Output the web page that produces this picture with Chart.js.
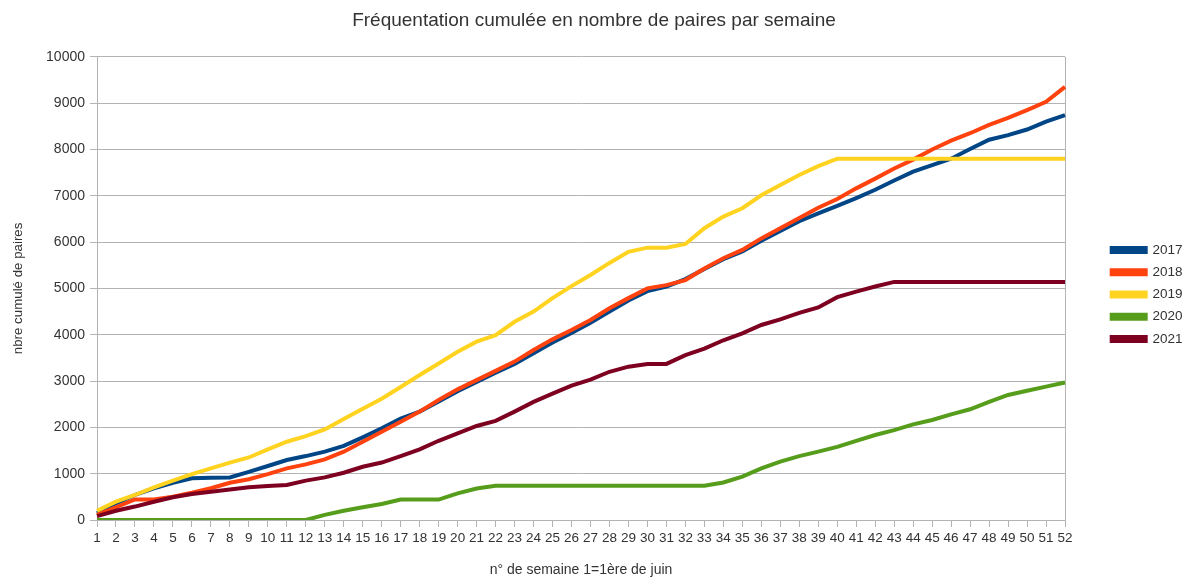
<!DOCTYPE html>
<html lang="fr">
<head>
<meta charset="utf-8">
<title>Fréquentation cumulée</title>
<script src="https://cdn.jsdelivr.net/npm/chart.js@4.4.1/dist/chart.umd.min.js"></script>
<style>
    html, body { margin: 0; padding: 0; background: #fff; }
    #wrap { width: 1188px; height: 579px; }
</style>
</head>
<body>
<div id="wrap"><canvas id="frequentationChart" width="1188" height="579"></canvas></div>
<script>
// n° de semaine (1 = 1ère semaine de juin)
const weeks = ['1', '2', '3', '4', '5', '6', '7', '8', '9', '10', '11', '12', '13', '14', '15', '16', '17', '18',
    '19', '20', '21', '22', '23', '24', '25', '26', '27', '28', '29', '30', '31', '32', '33', '34', '35', '36',
    '37', '38', '39', '40', '41', '42', '43', '44', '45', '46', '47', '48', '49', '50', '51', '52'];

// nombre cumulé de paires
const pairs2017 = [145, 360, 540, 685, 805, 900, 910, 920, 1040, 1165, 1295, 1380, 1475, 1600, 1785, 1980, 2190, 2340,
    2560, 2780, 2980, 3180, 3370, 3600, 3830, 4040, 4260, 4500, 4740, 4940, 5040, 5200, 5420, 5630, 5800,
    6030, 6240, 6450, 6620, 6780, 6950, 7130, 7330, 7520, 7660, 7800, 8010, 8210, 8310, 8430, 8600, 8740];
const pairs2018 = [110, 275, 445, 445, 505, 590, 685, 805, 880, 990, 1115, 1200, 1310, 1475, 1690, 1905, 2120, 2340,
    2590, 2820, 3020, 3220, 3420, 3670, 3900, 4100, 4320, 4570, 4790, 5000, 5070, 5180, 5430, 5650, 5830,
    6080, 6300, 6520, 6740, 6930, 7160, 7370, 7590, 7780, 8000, 8190, 8350, 8530, 8680, 8850, 9030, 9350];
const pairs2019 = [200, 395, 540, 705, 850, 990, 1115, 1240, 1350, 1525, 1690, 1810, 1955, 2180, 2400, 2620, 2870, 3130,
    3380, 3630, 3850, 3990, 4280, 4500, 4790, 5050, 5290, 5550, 5790, 5880, 5880, 5960, 6300, 6550, 6730,
    7010, 7230, 7450, 7640, 7800, 7800, 7800, 7800, 7800, 7800, 7800, 7800, 7800, 7800, 7800, 7800, 7800];
const pairs2020 = [0, 0, 0, 0, 0, 0, 0, 0, 0, 0, 0, 0, 110, 200, 275, 345, 440, 440,
    440, 575, 680, 740, 740, 740, 740, 740, 740, 740, 740, 740, 740, 740, 740, 810, 935,
    1115, 1260, 1380, 1475, 1580, 1710, 1835, 1940, 2065, 2160, 2280, 2390, 2550, 2700, 2790, 2880, 2970];
const pairs2021 = [85, 200, 290, 395, 490, 560, 610, 660, 705, 735, 755, 850, 920, 1020, 1150, 1240, 1380, 1525,
    1710, 1870, 2030, 2140, 2340, 2550, 2730, 2900, 3030, 3200, 3310, 3370, 3370, 3560, 3700, 3880, 4030,
    4210, 4330, 4470, 4590, 4810, 4930, 5040, 5140, 5140, 5140, 5140, 5140, 5140, 5140, 5140, 5140, 5140];

const yTicks = [0, 1000, 2000, 3000, 4000, 5000, 6000, 7000, 8000, 9000, 10000];

const gridColor = '#b3b3b3';
const textColor = '#333333';
const fontFamily = '"Liberation Sans", Arial, sans-serif';

function makeSeries(label, data, color, order) {
    return {
        label: label,
        data: data,
        borderColor: color,
        backgroundColor: color,
        borderWidth: 4,
        pointRadius: 0,
        pointHoverRadius: 0,
        tension: 0,
        fill: false,
        order: order
    };
}

// The legend sits in a fixed strip on the right, items start a bit further in
const legendPlacement = {
    id: 'legendPlacement',
    beforeLayout(chart) {
        const legend = chart.legend;
        if (legend && !legend._fixedWidth) {
            const fit = legend.fit.bind(legend);
            legend.fit = function() {
                fit();
                this.width = 123;
            };
            legend._fixedWidth = true;
        }
    },
    afterLayout(chart) {
        const legend = chart.legend;
        if (!legend) return;
        const dx = 1103 - legend.left;
        const dy = 5;
        legend.left += dx;
        legend.right += dx;
        legend.top += dy;
        legend.bottom += dy;
    }
};

document.addEventListener('DOMContentLoaded', () => {
    const ctx = document.getElementById('frequentationChart');

    new Chart(ctx.getContext('2d'), {
        type: 'line',
        data: {
            labels: weeks,
            datasets: [
                makeSeries('2017', pairs2017, '#004586', 4),
                makeSeries('2018', pairs2018, '#ff420e', 3),
                makeSeries('2019', pairs2019, '#ffd320', 2),
                makeSeries('2020', pairs2020, '#579d1c', 1),
                makeSeries('2021', pairs2021, '#7e0021', 0)
            ]
        },
        plugins: [legendPlacement],
        options: {
            responsive: false,
            animation: false,
            layout: {
                padding: { top: 0, right: 0, bottom: 0, left: 0 }
            },
            plugins: {
                title: {
                    display: true,
                    text: 'Fréquentation cumulée en nombre de paires par semaine',
                    color: textColor,
                    font: { family: fontFamily, size: 19, weight: 'normal' },
                    padding: { top: 9, bottom: 25 }
                },
                legend: {
                    position: 'right',
                    align: 'center',
                    labels: {
                        boxWidth: 34,
                        boxHeight: 4,
                        padding: 8.7,
                        color: textColor,
                        font: { family: fontFamily, size: 13.5 },
                        sort: (a, b) => a.datasetIndex - b.datasetIndex
                    }
                },
                tooltip: { enabled: false }
            },
            scales: {
                x: {
                    offset: false,
                    afterFit: scale => { scale.height = 59; },
                    grid: {
                        drawOnChartArea: true,
                        color: c => (c.index === 0 || c.index === weeks.length - 1) ? gridColor : 'rgba(0,0,0,0)',
                        tickColor: gridColor,
                        tickLength: 7
                    },
                    border: { color: gridColor },
                    ticks: {
                        autoSkip: false,
                        maxRotation: 0,
                        padding: 3,
                        color: textColor,
                        font: { family: fontFamily, size: 13.5 }
                    },
                    title: {
                        display: true,
                        text: 'n° de semaine 1=1ère de juin',
                        color: textColor,
                        font: { family: fontFamily, size: 14 },
                        padding: { top: 0, bottom: 0 }
                    }
                },
                y: {
                    min: 0,
                    max: 10000,
                    afterFit: scale => { scale.width = 97; },
                    afterBuildTicks: scale => { scale.ticks = yTicks.map(v => ({ value: v })); },
                    grid: {
                        color: gridColor,
                        tickColor: gridColor,
                        tickLength: 7
                    },
                    border: { color: gridColor },
                    ticks: {
                        padding: 5,
                        color: textColor,
                        font: { family: fontFamily, size: 14 },
                        callback: value => String(value)
                    },
                    title: {
                        display: true,
                        text: 'nbre cumulé de paires',
                        color: textColor,
                        font: { family: fontFamily, size: 13.3 },
                        padding: { top: 10, bottom: 0 }
                    }
                }
            }
        }
    });
});
</script>
</body>
</html>
